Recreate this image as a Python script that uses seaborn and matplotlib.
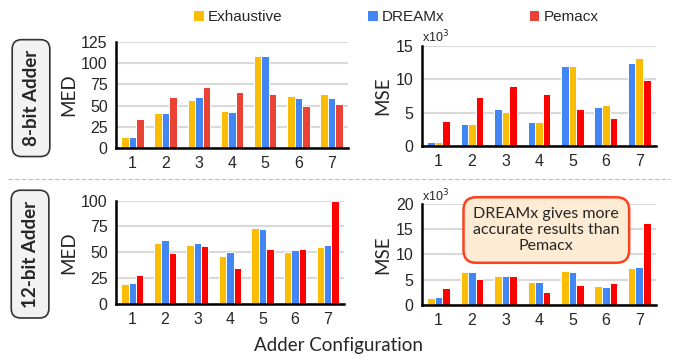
import numpy as np
import pandas as pd
import seaborn as sns
import matplotlib.pyplot as plt
from matplotlib.patches import Patch
from matplotlib.lines import Line2D

configs = ['1', '2', '3', '4', '5', '6', '7']
methods = ['Exhaustive', 'DREAMx', 'Pemacx']

# 8-bit adder
med8_exh = [12.7, 41.5, 56.6, 43.5, 108, 61, 64]
med8_dre = [13.4, 41.5, 59.7, 42.7, 108, 59, 59]
med8_pem = [34, 59.7, 71.6, 66.5, 64, 49.4, 52]
mse8_exh = [0.6, 3.3, 5.1, 3.6, 11.9, 6.2, 13.1]
mse8_dre = [0.6, 3.3, 5.5, 3.6, 11.9, 5.8, 12.4]
mse8_pem = [3.7, 7.3, 8.9, 7.8, 5.5, 4.2, 9.9]

# 12-bit adder
med12_exh = [19, 59, 57, 46.6, 73.5, 50, 55]
med12_dre = [19.7, 61.5, 59, 50, 72.5, 52, 57]
med12_pem = [28, 49, 56, 35, 52.7, 53.4, 99.4]
mse12_exh = [1.45, 6.5, 5.7, 4.6, 6.7, 3.8, 7.4]
mse12_dre = [1.6, 6.5, 5.7, 4.6, 6.5, 3.6, 7.5]
mse12_pem = [3.4, 5.1, 5.8, 2.5, 4.0, 4.3, 16.2]

yellow = '#fbbc04'
blue = '#4285f4'
red_soft = '#ea4335'
red = '#ff0000'


def make_df(exh, dre, pem):
    rows = []
    for m, vals in zip(methods, [exh, dre, pem]):
        for c, v in zip(configs, vals):
            rows.append({'config': c, 'method': m, 'value': v})
    return pd.DataFrame(rows)


sns.set_style('white')
plt.rcParams['font.family'] = ['Liberation Sans', 'DejaVu Sans']

fig = plt.figure(figsize=(6.77, 3.62), dpi=100)
ax_tl = fig.add_axes([0.1713, 0.5912, 0.3427, 0.2928])
ax_tr = fig.add_axes([0.6233, 0.5967, 0.3456, 0.2770])
ax_bl = fig.add_axes([0.1713, 0.1610, 0.3368, 0.2845])
ax_br = fig.add_axes([0.6230, 0.1575, 0.3460, 0.2790])

panels = [
    (ax_tl, make_df(med8_exh, med8_dre, med8_pem), methods,
     [yellow, blue, red_soft], 'MED', (0, 125), [0, 25, 50, 75, 100, 125]),
    # this panel has DREAMx drawn first in the original
    (ax_tr, make_df(mse8_exh, mse8_dre, mse8_pem), ['DREAMx', 'Exhaustive', 'Pemacx'],
     [blue, yellow, red], 'MSE', (0, 15), [0, 5, 10, 15]),
    (ax_bl, make_df(med12_exh, med12_dre, med12_pem), methods,
     [yellow, blue, red], 'MED', (0, 100), [0, 25, 50, 75, 100]),
    (ax_br, make_df(mse12_exh, mse12_dre, mse12_pem), methods,
     [yellow, blue, red], 'MSE', (0, 20), [0, 5, 10, 15, 20]),
]

for ax, df, order, cols, ylab, ylim, yticks in panels:
    sns.barplot(data=df, x='config', y='value', hue='method', hue_order=order,
                palette=cols, width=0.68, edgecolor='white', linewidth=0.7,
                saturation=1, legend=False, ax=ax)
    ax.set_ylim(*ylim)
    ax.set_yticks(yticks)
    ax.set_xlim(-0.5, 6.5)
    ax.yaxis.grid(True, color='#d9d9d9', linewidth=1.5)
    ax.set_axisbelow(True)
    for s in ['top', 'right']:
        ax.spines[s].set_visible(False)
    for s in ['left', 'bottom']:
        ax.spines[s].set_color('black')
        ax.spines[s].set_linewidth(1.8)
    ax.tick_params(axis='both', length=0, labelsize=11.5, pad=6)
    ax.set_xlabel('')
    ax.set_ylabel(ylab, fontsize=13.5, family='Lato', labelpad=3)

for ax in [ax_tr, ax_br]:
    ax.text(0.0, 1.0, r'x10$^3$', transform=ax.transAxes, fontsize=9,
            ha='left', va='bottom')

# legend
handles = [Patch(facecolor=c, edgecolor='none') for c in [yellow, blue, red_soft]]
fig.legend(handles, methods, loc='upper center', bbox_to_anchor=(0.586, 1.01),
           ncol=3, frameon=False, handlelength=0.6, handleheight=0.6,
           handletextpad=0.3, columnspacing=5.6, fontsize=11)

# row labels
box = dict(boxstyle='round,pad=0.55,rounding_size=0.5', facecolor='#f2f2f2',
           edgecolor='#333333', linewidth=1.2)
fig.text(0.0458, 0.729, '8-bit Adder', rotation=90, ha='center', va='center',
         fontsize=13.5, fontweight='bold', family='Lato', bbox=box)
fig.text(0.0444, 0.298, '12-bit Adder', rotation=90, ha='center', va='center',
         fontsize=13.5, fontweight='bold', family='Lato', bbox=box)

# separator
fig.add_artist(Line2D([0.012, 0.99], [0.506, 0.506], color='#bfbfbf',
                      linestyle=(0, (4, 2)), linewidth=0.8))

fig.text(0.5, 0.045, 'Adder Configuration', ha='center', va='center',
         fontsize=13.5, family='Lato')

fig.text(0.807, 0.3646, 'DREAMx gives more\naccurate results than\nPemacx',
         ha='center', va='center', fontsize=11.5, family='Lato', linespacing=1.2,
         bbox=dict(boxstyle='round,pad=0.6,rounding_size=0.8', facecolor='#fdebd3',
                   edgecolor='#ff4020', linewidth=1.8))

fig.savefig('out.png', dpi=100)
